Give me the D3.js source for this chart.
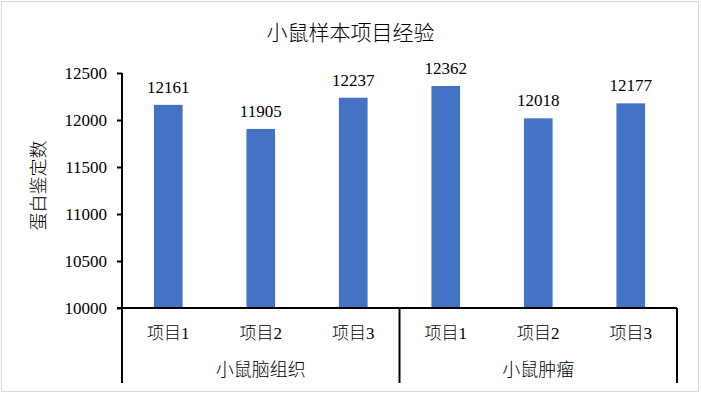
<!DOCTYPE html>
<html>
<head>
<meta charset="utf-8">
<script src="https://cdn.jsdelivr.net/npm/d3@7"></script>
<style>
  body { margin: 0; background: #fff; }
  text { fill: #000; }
</style>
</head>
<body>
<script>
let groups = ['小鼠脑组织', '小鼠肿瘤'];
let items = ['项目1', '项目2', '项目3'];
let values = [12161, 11905, 12237, 12362, 12018, 12177];
let yTicks = [10000, 10500, 11000, 11500, 12000, 12500];

let W = 701, H = 394;
let margin = { top: 73, left: 122, right: 24, bottom: 86 };
let width = W - margin.left - margin.right;
let height = H - margin.top - margin.bottom;
let font = '"Liberation Serif", "Times New Roman", "DejaVu Serif", "Noto Sans CJK SC", serif';
let cjk = '"Noto Sans CJK SC", sans-serif';

let svg = d3.select('body').append('svg')
    .attr('width', W)
    .attr('height', H);

// outer border
svg.append('rect')
    .attr('x', 1.5).attr('y', 1.5)
    .attr('width', W - 4).attr('height', H - 4)
    .attr('fill', 'none')
    .attr('stroke', '#d9d9d9');

// title
svg.append('text')
    .attr('x', W / 2)
    .attr('y', 40)
    .attr('text-anchor', 'middle')
    .attr('font-family', cjk)
    .attr('font-weight', 300)
    .attr('font-size', 21)
    .text('小鼠样本项目经验');

let g = svg.append('g')
    .attr('transform', 'translate(' + margin.left + ',' + margin.top + ')');

// one slot per (group, item)
let cats = [];
groups.forEach(function(gr) {
  items.forEach(function(it) { cats.push(gr + '|' + it); });
});

let x = d3.scaleBand().domain(cats).range([0, width]).paddingInner(0.69).paddingOuter(0.345);
let y = d3.scaleLinear().domain([10000, 12500]).range([height, 0]);

// bars
g.selectAll('.bar')
  .data(values)
  .enter().append('rect')
    .attr('class', 'bar')
    .attr('x', function(d, i) { return x(cats[i]); })
    .attr('width', x.bandwidth())
    .attr('y', function(d) { return y(d); })
    .attr('height', function(d) { return height - y(d); })
    .attr('fill', '#4472C4');

// value labels
g.selectAll('.val')
  .data(values)
  .enter().append('text')
    .attr('class', 'val')
    .attr('x', function(d, i) { return x(cats[i]) + x.bandwidth() / 2; })
    .attr('y', function(d) { return y(d) - 12; })
    .attr('text-anchor', 'middle')
    .attr('font-family', font)
    .attr('font-size', 17)
    .text(function(d) { return d; });

// y axis
let yAxis = d3.axisLeft(y).tickValues(yTicks).tickFormat(d3.format('d')).tickSize(5).tickPadding(10);
let ya = g.append('g').call(yAxis);
ya.select('.domain').remove();
ya.selectAll('.tick line').attr('stroke', '#000').attr('stroke-width', 2);
ya.selectAll('.tick text')
    .attr('font-family', font)
    .attr('font-size', 17)
    .attr('fill', '#000');
ya.attr('font-family', font).attr('font-size', 17);

let lineColor = '#000';
let bottomEnd = H - margin.top - 11;

// y axis line (runs down into the category area)
g.append('line')
    .attr('x1', 0).attr('x2', 0)
    .attr('y1', 0).attr('y2', bottomEnd)
    .attr('stroke', lineColor).attr('stroke-width', 2);

// x axis line
g.append('line')
    .attr('x1', -5).attr('x2', width)
    .attr('y1', height).attr('y2', height)
    .attr('stroke', lineColor).attr('stroke-width', 2);

// group separators
let step = width / groups.length;
groups.forEach(function(gr, i) {
  g.append('line')
      .attr('x1', step * (i + 1)).attr('x2', step * (i + 1))
      .attr('y1', height).attr('y2', bottomEnd)
      .attr('stroke', lineColor).attr('stroke-width', 2);
  g.append('text')
      .attr('x', step * i + step / 2)
      .attr('y', height + 68)
      .attr('text-anchor', 'middle')
      .attr('font-family', cjk)
      .attr('font-weight', 300)
      .attr('font-size', 18)
      .text(gr);
});

// item labels
g.selectAll('.item')
  .data(cats)
  .enter().append('text')
    .attr('class', 'item')
    .attr('x', function(d) { return x(d) + x.bandwidth() / 2; })
    .attr('y', height + 31)
    .attr('text-anchor', 'middle')
    .attr('font-family', font)
    .attr('font-weight', 300)
    .attr('font-size', 17)
    .text(function(d) { return d.split('|')[1]; });

// y axis title
svg.append('text')
    .attr('transform', 'translate(45,' + (margin.top + height / 2 - 5) + ') rotate(-90)')
    .attr('text-anchor', 'middle')
    .attr('font-family', cjk)
    .attr('font-weight', 300)
    .attr('font-size', 18)
    .text('蛋白鉴定数');
</script>
</body>
</html>
